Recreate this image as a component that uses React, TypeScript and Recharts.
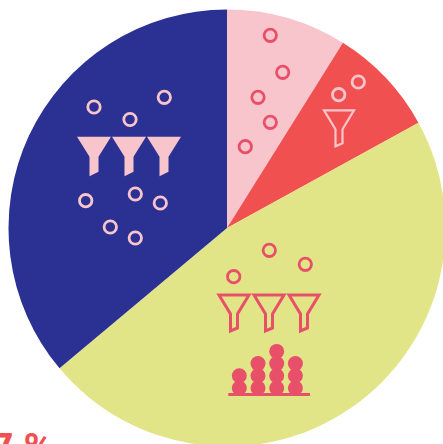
import { Cell, Pie, PieChart, ZIndexLayer } from 'recharts'

const categories = ['Pink', 'Red', 'Yellow', 'Navy']
const shares = [8.9, 8.1, 46.9, 36.1]
const sliceColors = ['#F9C5CC', '#F15050', '#E2E587', '#2B3192']
const pieData = categories.map((name, i) => ({ name, value: shares[i] }))

const ICON_RED = '#E8506A'
const ICON_PINK = '#F9C5CC'

// decoration positions
const navyRings = [[94, 107], [130, 119.5], [164.3, 97.3], [85.7, 200.7], [135.3, 194], [160.3, 203], [110.3, 227], [135.3, 238]]
const pinkRings = [[270.3, 35.3], [282.7, 72.3], [258, 97.3], [270.3, 122.3], [245.3, 146.7]]
const redRings = [[338.7, 94.7], [358.3, 82]]
const yellowRings = [[269.3, 250.3], [305.3, 264.3], [233.7, 276.7]]
const stackCounts = [2, 3, 4, 3]

const FUNNEL_SOLID = 'M-17 0H17L4.5 20V35L-4.5 39.5V20Z'
const FUNNEL_LINE = 'M-15 1H15L3.5 20V34L-3.5 37V20Z'

function Rings({ points, color }: { points: number[][]; color: string }) {
  return (
    <g fill="none" stroke={color} strokeWidth={2.8}>
      {points.map(([x, y]) => (
        <circle key={`${x}-${y}`} cx={x} cy={y} r={6.2} />
      ))}
    </g>
  )
}

export default function App() {
  return (
    <div style={{ position: 'fixed', left: 0, top: 0, width: 443, height: 444, overflow: 'hidden', background: '#fff' }}>
      <PieChart width={443} height={444} margin={{ top: 0, right: 0, bottom: 0, left: 0 }}>
        <Pie
          data={pieData}
          dataKey="value"
          cx={227}
          cy={228}
          outerRadius={218.5}
          startAngle={90}
          endAngle={-270}
          stroke="none"
          isAnimationActive={false}
        >
          {pieData.map((d, i) => (
            <Cell key={d.name} fill={sliceColors[i]} />
          ))}
        </Pie>
        <ZIndexLayer zIndex={1000}>
          <Rings points={navyRings} color={ICON_PINK} />
          <Rings points={pinkRings} color={ICON_RED} />
          <Rings points={redRings} color={ICON_PINK} />
          <Rings points={yellowRings} color={ICON_RED} />
          {[94, 129, 164].map((x) => (
            <path key={x} d={FUNNEL_SOLID} transform={`translate(${x} 136.7)`} fill={ICON_PINK} />
          ))}
          {[234, 269, 304].map((x) => (
            <path key={x} d={FUNNEL_LINE} transform={`translate(${x} 294)`} fill="none" stroke={ICON_RED} strokeWidth={3} />
          ))}
          <path d={FUNNEL_LINE} transform="translate(339 109.3)" fill="none" stroke={ICON_PINK} strokeWidth={2.2} />
          {stackCounts.map((count, col) =>
            Array.from({ length: count }, (_, row) => (
              <circle key={`${col}-${row}`} cx={239.3 + col * 18.7} cy={388 - row * 12.2} r={7.5} fill={ICON_RED} />
            )),
          )}
          <rect x={228.3} y={393} width={81.7} height={3} fill={ICON_RED} />
        </ZIndexLayer>
        <text x={53} y={462} textAnchor="end" fill="#F15050" fontFamily="Roboto" fontWeight={700} fontSize={40}>
          47 %
        </text>
      </PieChart>
    </div>
  )
}
